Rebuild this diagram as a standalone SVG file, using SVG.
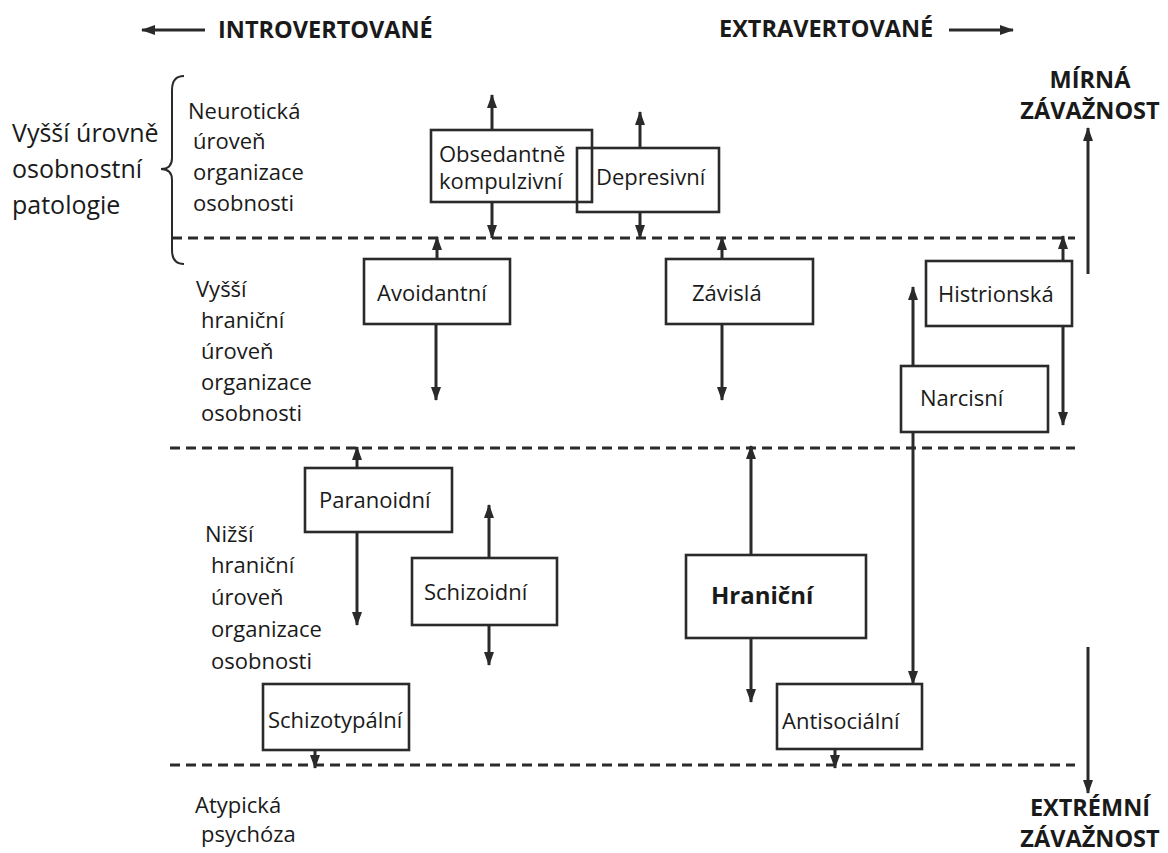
<svg xmlns="http://www.w3.org/2000/svg" width="1168" height="853" viewBox="0 0 1168 853">
<style>
text{font-family:"Open Sans","Noto Sans","DejaVu Sans",sans-serif;fill:#1a1a1a;}
.t{font-size:22px;}
.big{font-size:25px;}
.h{font-size:23.5px;font-weight:bold;}
.box{fill:none;stroke:#2a2a2a;stroke-width:2.6;}
.ar{stroke:#2a2a2a;stroke-width:3;fill:none;marker-end:url(#ah);}
.dash{stroke:#2a2a2a;stroke-width:3;stroke-dasharray:10 6;fill:none;}
</style>
<defs>
<marker id="ah" viewBox="0 0 14 10" refX="13" refY="5" markerWidth="14" markerHeight="10" markerUnits="userSpaceOnUse" orient="auto">
<path d="M0,0 L14,5 L0,10 z" fill="#2a2a2a"/>
</marker>
</defs>
<rect width="1168" height="853" fill="#ffffff"/>

<g id="header">
<text class="h" x="218" y="38">INTROVERTOVANÉ</text>
<text class="h" x="719" y="37">EXTRAVERTOVANÉ</text>
<text class="h" x="1090" y="88" text-anchor="middle">MÍRNÁ</text>
<text class="h" x="1090" y="119" text-anchor="middle">ZÁVAŽNOST</text>
<text class="h" x="1090" y="816" text-anchor="middle">EXTRÉMNÍ</text>
<text class="h" x="1090" y="847" text-anchor="middle">ZÁVAŽNOST</text>
</g>

<g id="levels">
<text class="big" x="12" y="142">Vyšší úrovně</text>
<text class="big" x="12" y="178">osobnostní</text>
<text class="big" x="12" y="214">patologie</text>
<path d="M184,76 Q172,76 172,90 L172,158 Q172,169 161,169 Q172,169 172,180 L172,250 Q172,264 184,264" fill="none" stroke="#2a2a2a" stroke-width="2"/>
<text class="t" x="188" y="119">Neurotická</text>
<text class="t" x="193" y="149">úroveň</text>
<text class="t" x="193" y="180">organizace</text>
<text class="t" x="193" y="211">osobnosti</text>
<text class="t" x="196" y="297">Vyšší</text>
<text class="t" x="201" y="328">hraniční</text>
<text class="t" x="201" y="359">úroveň</text>
<text class="t" x="201" y="390">organizace</text>
<text class="t" x="201" y="421">osobnosti</text>
<text class="t" x="205" y="542">Nižší</text>
<text class="t" x="211" y="573">hraniční</text>
<text class="t" x="211" y="605">úroveň</text>
<text class="t" x="211" y="637">organizace</text>
<text class="t" x="211" y="669">osobnosti</text>
<text class="t" x="195" y="813">Atypická</text>
<text class="t" x="201" y="842">psychóza</text>
</g>

<g id="n-obsedantne">
<rect class="box" x="431" y="130" width="161" height="72"/>
<text class="t" x="439" y="162">Obsedantně</text>
<text class="t" x="439" y="189">kompulzivní</text>
</g>
<g id="n-depresivni">
<rect class="box" x="577" y="148" width="142" height="64"/>
<text class="t" x="596" y="185">Depresivní</text>
</g>
<g id="n-avoidantni">
<rect class="box" x="364" y="259" width="146" height="65"/>
<text class="t" x="377" y="301">Avoidantní</text>
</g>
<g id="n-zavisla">
<rect class="box" x="666" y="259" width="147" height="65"/>
<text class="t" x="692" y="301">Závislá</text>
</g>
<g id="n-histrionska">
<rect class="box" x="926" y="261" width="146" height="65"/>
<text class="t" x="938" y="302">Histrionská</text>
</g>
<g id="n-narcisni">
<rect class="box" x="901" y="366" width="147" height="66"/>
<text class="t" x="920" y="406">Narcisní</text>
</g>
<g id="n-paranoidni">
<rect class="box" x="305" y="468" width="147" height="64"/>
<text class="t" x="319" y="508">Paranoidní</text>
</g>
<g id="n-schizoidni">
<rect class="box" x="412" y="558" width="145" height="67"/>
<text class="t" x="424" y="600">Schizoidní</text>
</g>
<g id="n-hranicni">
<rect class="box" x="686" y="555" width="180" height="83"/>
<text x="711" y="604" font-weight="bold" font-size="24">Hraniční</text>
</g>
<g id="n-schizotypalni">
<rect class="box" x="263" y="684" width="146" height="66"/>
<text class="t" x="268" y="728">Schizotypální</text>
</g>
<g id="n-antisocialni">
<rect class="box" x="777" y="684" width="145" height="65"/>
<text class="t" x="782" y="729">Antisociální</text>
</g>

<g id="connectors">
<line class="dash" x1="172" y1="238" x2="1075" y2="238"/>
<line class="dash" x1="170" y1="448" x2="1075" y2="448"/>
<line class="dash" x1="170" y1="765" x2="1075" y2="765"/>
<line class="ar" x1="205" y1="30" x2="142" y2="30"/>
<line class="ar" x1="949" y1="30" x2="1013" y2="30"/>
<line class="ar" x1="492" y1="130" x2="492" y2="95"/>
<line class="ar" x1="492" y1="202" x2="492" y2="238"/>
<line class="ar" x1="640" y1="148" x2="640" y2="112"/>
<line class="ar" x1="640" y1="212" x2="640" y2="238"/>
<line class="ar" x1="437" y1="259" x2="437" y2="237"/>
<line class="ar" x1="436" y1="324" x2="436" y2="400"/>
<line class="ar" x1="722" y1="259" x2="722" y2="237"/>
<line class="ar" x1="722" y1="324" x2="722" y2="400"/>
<line class="ar" x1="1063" y1="261" x2="1063" y2="236"/>
<line class="ar" x1="1063" y1="326" x2="1063" y2="425"/>
<line class="ar" x1="913" y1="366" x2="913" y2="287"/>
<line class="ar" x1="913" y1="432" x2="913" y2="684"/>
<line class="ar" x1="357" y1="468" x2="357" y2="447"/>
<line class="ar" x1="357" y1="532" x2="357" y2="625"/>
<line class="ar" x1="489" y1="558" x2="489" y2="505"/>
<line class="ar" x1="489" y1="625" x2="489" y2="665"/>
<line class="ar" x1="751" y1="555" x2="751" y2="446"/>
<line class="ar" x1="751" y1="638" x2="751" y2="702"/>
<line class="ar" x1="315" y1="750" x2="315" y2="768"/>
<line class="ar" x1="835" y1="749" x2="835" y2="768"/>
<line class="ar" x1="1088" y1="274" x2="1088" y2="128"/>
<line class="ar" x1="1088" y1="647" x2="1088" y2="793"/>
</g>
</svg>
